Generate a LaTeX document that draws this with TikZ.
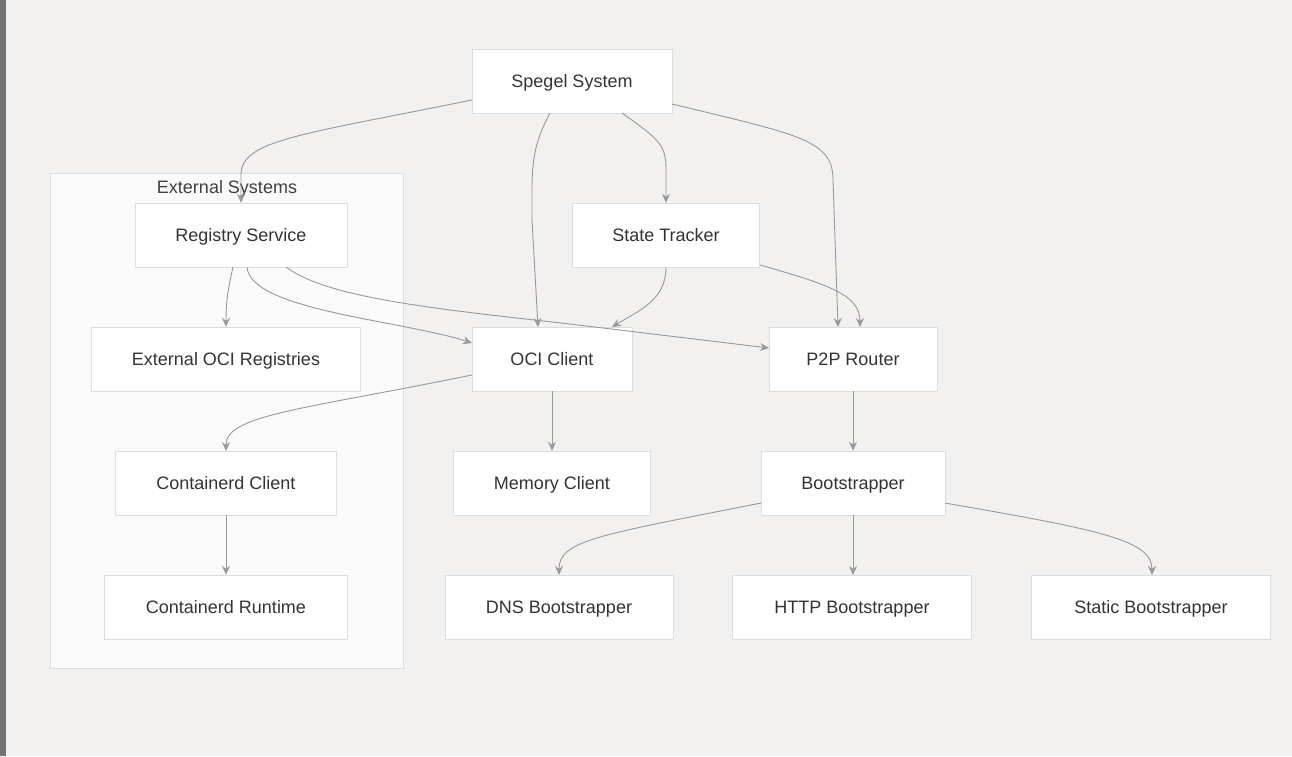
\documentclass[tikz,border=0pt]{standalone}
\usepackage{fontspec}
\setmainfont{Liberation Sans}
\usetikzlibrary{arrows.meta}
\definecolor{bg}{HTML}{F2F1EF}
\definecolor{edge}{HTML}{999999}
\definecolor{nb}{HTML}{DDDDDD}
\begin{document}
\begin{tikzpicture}[x=1pt,y=-1pt,
  box/.style={draw=nb,fill=white,minimum height=64pt,inner sep=0pt,text height=13pt,text depth=1pt,font=\fontsize{18}{22}\selectfont,text=black!80},
  ed/.style={draw=edge,line width=0.9pt,-{Stealth[length=9pt,width=8pt]}}]
\useasboundingbox (0,0) rectangle (1292,756);
\fill[bg] (0,0) rectangle (1292,756);
\fill[black!55] (0,0) rectangle (6,756);
\draw[nb,fill=black!2,line width=1pt] (50,173) rectangle (403,668);
\node[font=\fontsize{18}{22}\selectfont,text=black!75] (cl) at (227,189) {External Systems};
\node[box,minimum width=200pt] (sp) at (572,81) {Spegel System};
\node[box,minimum width=212pt] (rs) at (241,235) {Registry Service};
\node[box,minimum width=187pt] (st) at (666,235) {State Tracker};
\node[box,minimum width=269pt] (eo) at (226,359) {External OCI Registries};
\node[box,minimum width=160pt] (oc) at (552,359) {OCI Client};
\node[box,minimum width=168pt] (pr) at (853,359) {P2P Router};
\node[box,minimum width=221pt] (cc) at (226,483) {Containerd Client};
\node[box,minimum width=197pt] (mc) at (552,483) {Memory Client};
\node[box,minimum width=184pt] (bs) at (853,483) {Bootstrapper};
\node[box,minimum width=243pt] (cr) at (226,607) {Containerd Runtime};
\node[box,minimum width=228pt] (dn) at (559,607) {DNS Bootstrapper};
\node[box,minimum width=239pt] (ht) at (852,607) {HTTP Bootstrapper};
\node[box,minimum width=239pt] (sb) at (1151,607) {Static Bootstrapper};
\path[ed] (sp.west|-0,100) .. controls (300,135) and (241,140) .. (241,175) -- (rs.north);
\path[ed] (550,113) .. controls (530,150) and (532,170) .. (532,220) -- (538,327);
\path[ed] (622,113) .. controls (660,140) and (666,145) .. (666,170) -- (st.north);
\path[ed] (672,104) .. controls (800,135) and (833,140) .. (833,180) -- (838,327);
\path[ed] (233,267) .. controls (228,290) and (226,300) .. (eo.north);
\path[ed] (247,267) .. controls (250,310) and (400,320) .. (472,343);
\path[ed] (286,267) .. controls (330,300) and (450,310) .. (578,325) -- (769,348);
\path[ed] (666,267) .. controls (666,300) and (640,310) .. (612,327);
\path[ed] (760,265) .. controls (830,285) and (860,295) .. (860,327);
\path[ed] (472,375) .. controls (300,410) and (226,415) .. (226,451);
\path[ed] (oc.south) -- (mc.north);
\path[ed] (pr.south) -- (bs.north);
\path[ed] (cc.south) -- (cr.north);
\path[ed] (761,503) .. controls (600,535) and (559,540) .. (559,575);
\path[ed] (bs.south) -- (853,575);
\path[ed] (945,503) .. controls (1100,530) and (1152,540) .. (1152,575);
\end{tikzpicture}
\end{document}
